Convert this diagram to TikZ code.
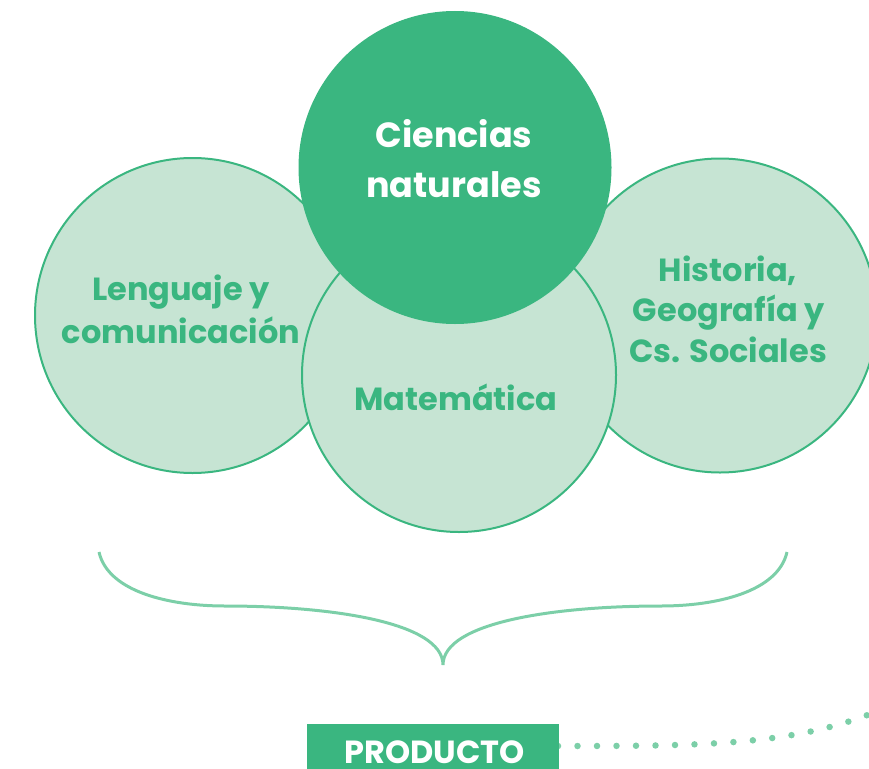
\documentclass[tikz,border=0pt]{standalone}
\usepackage{fontspec}
\setmainfont{Poppins}
\definecolor{dgreen}{HTML}{3AB680}
\definecolor{lgreen}{HTML}{C6E4D3}
\definecolor{mgreen}{HTML}{7CCFA8}
\tikzset{
  subj/.style={circle, draw=dgreen, line width=2pt, fill=lgreen, inner sep=0pt, minimum size=#1},
  main/.style={circle, fill=dgreen, inner sep=0pt, minimum size=#1},
  gtxt/.style={text=dgreen, font=\fontsize{32}{40}\selectfont\bfseries, inner sep=0pt, anchor=base},
  wtxt/.style={text=white, font=\fontsize{35}{40}\selectfont\bfseries, inner sep=0pt, anchor=base},
  bracepath/.style={draw=mgreen, line width=3pt},
  dotpath/.style={draw=mgreen, line width=6.5pt, line cap=round, dash pattern=on 0pt off 19.5pt},
}
\begin{document}
\begin{tikzpicture}[x=1pt,y=-1pt]
\useasboundingbox (0,0) rectangle (869,768);
\clip (0,0) rectangle (869,768);
% circles
\node[subj=315pt] (leng) at (192.5,315.5) {};
\node[subj=314pt] (hist) at (720,315.5) {};
\node[subj=314pt] (mate) at (459,375) {};
\node[main=313pt] (cien) at (455,167.5) {};
% texts
\node[wtxt] (cien1) at (454,147) {Ciencias};
\node[wtxt] (cien2) at (454,197) {naturales};
\node[gtxt] (leng1) at (181,300) {Lenguaje y};
\node[gtxt] (leng2) at (181,343) {comunicación};
\node[gtxt] (mate1) at (456,410) {Matemática};
\node[gtxt] (hist1) at (728,281) {Historia,};
\node[gtxt] (hist2) at (729,321) {Geografía y};
\node[gtxt] (hist3) at (728,362) {Cs. Sociales};
% brace
\coordinate (bl) at (99,552);
\coordinate (br) at (787,552);
\coordinate (bt) at (443,665);
\draw[bracepath] (bl) .. controls (108,592) and (170,606) .. (225,606)
  .. controls (330,606) and (443,622) .. (bt)
  .. controls (443,622) and (556,606) .. (661,606)
  .. controls (716,606) and (778,592) .. (br);
% dotted line
\coordinate (d0) at (558,746);
\coordinate (d1) at (880,710);
\draw[dotpath] (d0) .. controls (700,746) and (795,746) .. (d1);
% product box
\node[fill=dgreen, minimum width=252pt, minimum height=50pt, inner sep=0pt, anchor=north west] (prodbox) at (307,724) {};
\node[text=white, font=\fontsize{32}{36}\selectfont\bfseries, inner sep=0pt, anchor=base] (prod) at (434.5,763) {PRODUCTO};
\end{tikzpicture}
\end{document}
